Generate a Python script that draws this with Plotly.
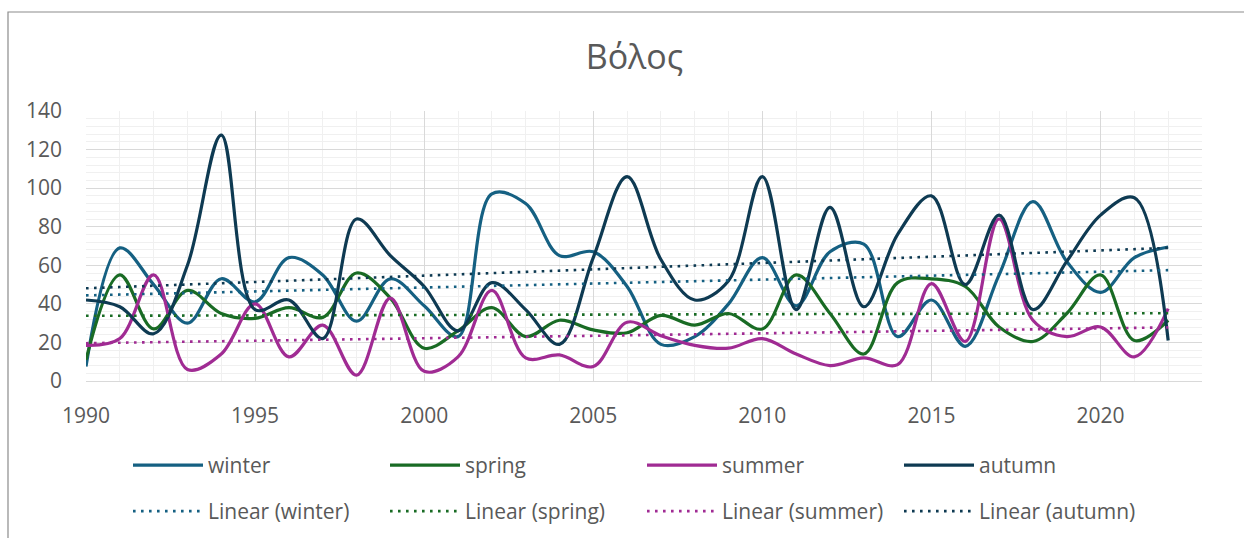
import numpy as np
import plotly.graph_objects as go

years = list(range(1990, 2023))

winter = [7.5, 69, 50, 30, 53, 41, 64, 55, 31, 53, 39, 23, 97, 92, 65, 67, 49, 19, 23, 40,
          64, 39, 67, 71, 23, 42, 18, 55, 93, 62, 46, 64, 69.5]
spring = [11, 55, 27, 47, 35, 32.5, 38, 33, 56, 43, 17, 26, 38, 23, 31.5, 26.5, 25, 34, 29, 35,
          27, 55, 35, 14, 51, 53, 49, 28, 20.5, 35, 55, 21, 31.5]
summer = [18.5, 22, 55, 6, 14, 40, 12.5, 29, 3, 43, 5, 12.5, 47, 12, 13.5, 7.5, 30.5, 23.5, 18.5, 17,
          22, 14, 8, 12, 8.5, 50.5, 20.5, 84, 31.5, 23, 28, 12.5, 37.5]
autumn = [42, 38.5, 24.5, 60, 127.5, 37, 42, 22, 84, 65, 49, 26, 51, 37, 19, 64, 106, 63, 42, 52,
          106, 37, 90, 38.5, 76, 96, 50, 86, 37, 62, 86, 95, 21]

series_names = ["winter", "spring", "summer", "autumn"]
series_values = [winter, spring, summer, autumn]
series_colors = ["#156082", "#196B24", "#A02B93", "#0E3A52"]

x_ticks = [1990, 1995, 2000, 2005, 2010, 2015, 2020]
y_ticks = [0, 20, 40, 60, 80, 100, 120, 140]

FONT = "Open Sans"
GREY = "#595959"
FS = 21

fig = go.Figure()

for name, vals, col in zip(series_names, series_values, series_colors):
    fig.add_trace(go.Scatter(
        x=years, y=vals, name=name, mode="lines",
        line=dict(color=col, width=3.2, shape="spline", smoothing=1.0),
        legend="legend",
    ))

for name, vals, col in zip(series_names, series_values, series_colors):
    slope, intercept = np.polyfit(years, vals, 1)
    trend = [slope * yr + intercept for yr in years]
    fig.add_trace(go.Scatter(
        x=years, y=trend, name=f"Linear ({name})", mode="lines",
        line=dict(color=col, width=2.6, dash="2.6px,5.4px"),
        legend="legend2",
    ))

legend_common = dict(orientation="h", xanchor="left", yanchor="top",
                     entrywidth=172, entrywidthmode="pixels", itemwidth=70,
                     font=dict(size=FS, color=GREY, family=FONT),
                     traceorder="normal", bgcolor="rgba(0,0,0,0)")

fig.update_layout(
    width=1244, height=538,
    margin=dict(l=86, r=42, t=111, b=157, autoexpand=False),
    paper_bgcolor="white", plot_bgcolor="white",
    font=dict(family=FONT, color=GREY, size=FS),
    title=dict(text="Βόλος", x=0.51, xanchor="center", y=1 - 57 / 538, yanchor="middle",
               yref="container", font=dict(size=34, color=GREY, family=FONT)),
    showlegend=True,
    legend=dict(x=(128 - 86) / 1116, y=-(445 - 381) / 270, **legend_common),
    legend2=dict(x=(128 - 86) / 1116, y=-(491 - 381) / 270, **legend_common),
    xaxis=dict(range=[1990, 2023], tickvals=x_ticks, showgrid=True, gridcolor="#D9D9D9",
               gridwidth=1.3, zeroline=False, showline=True, linecolor="#D9D9D9", linewidth=1.3,
               ticks="", tickfont=dict(size=FS, color=GREY), ticklabelstandoff=16,
               minor=dict(dtick=1, tick0=1990, showgrid=True, gridcolor="#F0F0F0", gridwidth=1.3)),
    yaxis=dict(range=[0, 140], tickvals=y_ticks, showgrid=True, gridcolor="#D9D9D9",
               gridwidth=1.3, zeroline=False, showline=False, ticks="",
               tickfont=dict(size=FS, color=GREY), ticklabelstandoff=23,
               minor=dict(dtick=4, tick0=0, showgrid=True, gridcolor="#F0F0F0", gridwidth=1.3)),
    shapes=[dict(type="rect", xref="paper", yref="paper",
                 x0=(8 - 86) / 1116, x1=1.2, y0=-0.8, y1=(381 - 12) / 270,
                 line=dict(color="#8C8C8C", width=1.2), fillcolor="rgba(0,0,0,0)", layer="below")],
)

fig.write_html("out.html")
